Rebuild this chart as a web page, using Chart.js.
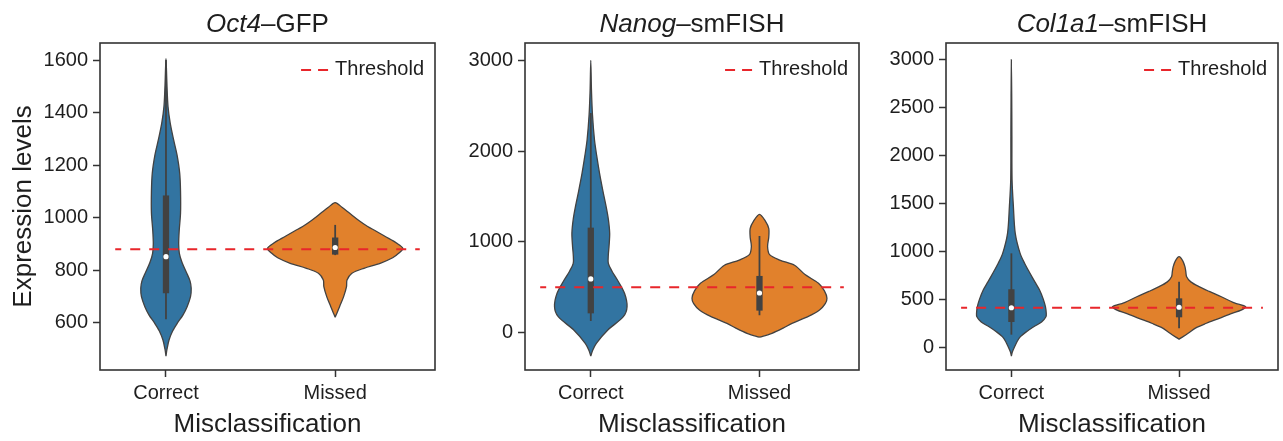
<!DOCTYPE html>
<html>
<head>
<meta charset="utf-8">
<script src="https://cdn.jsdelivr.net/npm/chart.js@4.4.1/dist/chart.umd.min.js"></script>
<style>
html,body{margin:0;padding:0;background:#fff;width:1283px;height:441px;overflow:hidden}
canvas{position:absolute;left:0;top:0}
</style>
</head>
<body>
<canvas id="c1" width="1283" height="441"></canvas>
<canvas id="c2" width="1283" height="441"></canvas>
<canvas id="c3" width="1283" height="441"></canvas>
<script>
// ---------- data ----------
const categories = ['Correct', 'Missed'];
const xAxisTitle = 'Misclassification';
const yAxisTitle = 'Expression levels';
const legendLabel = 'Threshold';
const titlesItalic = ['Oct4', 'Nanog', 'Col1a1'];
const titlesPlain = ['\u2013GFP', '\u2013smFISH', '\u2013smFISH'];
const thresholds = [880, 500, 410];

const oct4Ticks = [600, 800, 1000, 1200, 1400, 1600];
const nanogTicks = [0, 1000, 2000, 3000];
const col1a1Ticks = [0, 500, 1000, 1500, 2000, 2500, 3000];
const oct4Range = [421, 1665];
const nanogRange = [-411, 3191];
const col1a1Range = [-240, 3174];

// violin outlines: expression level (y) and density half-width (category units)
const oct4CorrectY = [474, 500, 535, 570, 599, 630, 662, 700, 732, 760, 789, 830, 865, 900, 950, 1018, 1100, 1170, 1240, 1297, 1360, 1423, 1500, 1560, 1605];
const oct4CorrectW = [0, 0.006, 0.018, 0.04, 0.067, 0.1, 0.125, 0.145, 0.149, 0.142, 0.123, 0.095, 0.079, 0.075, 0.078, 0.086, 0.086, 0.081, 0.065, 0.045, 0.025, 0.012, 0.006, 0.003, 0];
const oct4MissedY = [622, 640, 662, 700, 738, 763, 789, 808, 827, 848, 865, 884, 905, 929, 950, 967, 990, 1018, 1040, 1058];
const oct4MissedW = [0, 0.012, 0.026, 0.05, 0.067, 0.07, 0.099, 0.17, 0.266, 0.34, 0.375, 0.40, 0.36, 0.296, 0.24, 0.192, 0.14, 0.084, 0.04, 0];

const nanogCorrectY = [-257, -190, -117, 30, 176, 286, 434, 580, 680, 764, 860, 947, 1095, 1250, 1388, 1560, 1755, 1950, 2122, 2400, 2673, 3000];
const nanogCorrectW = [0, 0.012, 0.033, 0.101, 0.193, 0.215, 0.2, 0.158, 0.125, 0.104, 0.104, 0.108, 0.112, 0.104, 0.091, 0.072, 0.052, 0.035, 0.022, 0.01, 0.004, 0];
const nanogMissedY = [-50, -7, 50, 103, 180, 250, 320, 379, 460, 544, 640, 740, 800, 860, 950, 1050, 1150, 1230, 1304];
const nanogMissedW = [0, 0.074, 0.14, 0.193, 0.29, 0.356, 0.39, 0.40, 0.385, 0.35, 0.27, 0.21, 0.12, 0.06, 0.048, 0.055, 0.055, 0.035, 0];

const col1a1CorrectY = [-94, -50, 3, 60, 108, 160, 212, 260, 316, 350, 421, 500, 595, 680, 770, 870, 978, 1187, 1465, 1744, 2200, 2600, 3000];
const col1a1CorrectW = [0, 0.006, 0.019, 0.035, 0.054, 0.09, 0.133, 0.18, 0.206, 0.208, 0.203, 0.19, 0.168, 0.14, 0.111, 0.08, 0.052, 0.023, 0.012, 0.004, 0.003, 0.002, 0];
const col1a1MissedY = [81, 143, 200, 248, 300, 352, 385, 421, 460, 525, 580, 630, 680, 734, 790, 839, 900, 943];
const col1a1MissedW = [0, 0.054, 0.1, 0.163, 0.24, 0.315, 0.37, 0.397, 0.33, 0.252, 0.18, 0.119, 0.07, 0.045, 0.04, 0.035, 0.022, 0];

// inner box stats: [whiskerLow, q1, median, q3, whiskerHigh]
const oct4CorrectBox = [614, 713, 852, 1085, 1600];
const oct4MissedBox = [858, 860, 887, 925, 973];
const nanogCorrectBox = [129, 213, 592, 1157, 2420];
const nanogMissedBox = [192, 243, 437, 625, 1065];
const col1a1CorrectBox = [129, 261, 410, 603, 978];
const col1a1MissedBox = [195, 310, 415, 508, 682];

// ---------- style ----------
const FONT = '"Liberation Sans", Arial, Helvetica, sans-serif';
const TEXT = '#1e1e1e';
const EDGE = '#424242';
const RED = '#e8262b';
const FILLS = ['#3274a1', '#e1812c'];

const panels = [
  {id: 'c1', box: [100, 435], yWidth: 100, range: oct4Range, ticks: oct4Ticks, th: thresholds[0],
   violins: [[oct4CorrectY, oct4CorrectW], [oct4MissedY, oct4MissedW]], stats: [oct4CorrectBox, oct4MissedBox], t: 0, yTitle: true},
  {id: 'c2', box: [525, 859], yWidth: 85, range: nanogRange, ticks: nanogTicks, th: thresholds[1],
   violins: [[nanogCorrectY, nanogCorrectW], [nanogMissedY, nanogMissedW]], stats: [nanogCorrectBox, nanogMissedBox], t: 1, yTitle: false},
  {id: 'c3', box: [946, 1278], yWidth: 82, range: col1a1Range, ticks: col1a1Ticks, th: thresholds[2],
   violins: [[col1a1CorrectY, col1a1CorrectW], [col1a1MissedY, col1a1MissedW]], stats: [col1a1CorrectBox, col1a1MissedBox], t: 2, yTitle: false}
];

function violinPoints(center, ys, ws) {
  const pts = [];
  for (let i = 0; i < ys.length; i++) pts.push({x: center + ws[i], y: ys[i]});
  for (let i = ys.length - 2; i >= 0; i--) pts.push({x: center - ws[i], y: ys[i]});
  return pts;
}

const framePlugin = {
  id: 'frame',
  afterDraw(chart) {
    const {ctx, chartArea: a} = chart;
    ctx.save();
    ctx.strokeStyle = '#333';
    ctx.lineWidth = 1.6;
    ctx.strokeRect(a.left, a.top, a.right - a.left, a.bottom - a.top);
    ctx.restore();
  }
};

const titleLegendPlugin = {
  id: 'titleLegend',
  afterDraw(chart) {
    const {ctx, chartArea: a} = chart;
    const t = chart.options.plugins.titleLegend.idx;
    ctx.save();
    // title
    ctx.fillStyle = TEXT;
    ctx.textBaseline = 'alphabetic';
    ctx.textAlign = 'left';
    const fI = 'italic 26px ' + FONT, fN = '26px ' + FONT;
    ctx.font = fI; const wI = ctx.measureText(titlesItalic[t]).width;
    ctx.font = fN; const wN = ctx.measureText(titlesPlain[t]).width;
    const cx = (a.left + a.right) / 2;
    const x0 = cx - (wI + wN) / 2;
    ctx.font = fI; ctx.fillText(titlesItalic[t], x0, 32);
    ctx.font = fN; ctx.fillText(titlesPlain[t], x0 + wI, 32);
    // legend
    ctx.font = '20px ' + FONT;
    ctx.textAlign = 'right';
    ctx.textBaseline = 'middle';
    const tx = a.right - 11, ty = a.top + 26;
    ctx.fillText(legendLabel, tx, ty);
    const w = ctx.measureText(legendLabel).width;
    const lx1 = tx - w - 7, lx0 = lx1 - 27;
    ctx.strokeStyle = RED;
    ctx.lineWidth = 2;
    ctx.setLineDash([10, 7]);
    ctx.beginPath();
    ctx.moveTo(lx0, a.top + 27);
    ctx.lineTo(lx1, a.top + 27);
    ctx.stroke();
    ctx.restore();
  }
};

panels.forEach(p => {
  const datasets = [];
  // median dots (top)
  datasets.push({
    data: p.stats.map((s, i) => ({x: i, y: s[2]})),
    showLine: false, pointRadius: 2.6, pointHoverRadius: 2.6,
    pointBackgroundColor: '#ffffff', pointBorderWidth: 0, order: 0
  });
  // threshold
  datasets.push({
    data: [{x: -0.3, y: p.th}, {x: 1.5, y: p.th}],
    borderColor: RED, borderWidth: 2, borderDash: [10, 9], borderDashOffset: 4,
    pointRadius: 0, fill: false, order: 1
  });
  p.stats.forEach((s, i) => {
    datasets.push({
      data: [{x: i, y: s[1]}, {x: i, y: s[3]}],
      borderColor: EDGE, borderWidth: 6.3, borderCapStyle: 'butt',
      pointRadius: 0, fill: false, order: 2
    });
    datasets.push({
      data: [{x: i, y: s[0]}, {x: i, y: s[4]}],
      borderColor: EDGE, borderWidth: 1.8, borderCapStyle: 'butt',
      pointRadius: 0, fill: false, order: 3
    });
  });
  p.violins.forEach((v, i) => {
    datasets.push({
      data: violinPoints(i, v[0], v[1]),
      borderColor: EDGE, borderWidth: 1.3, backgroundColor: FILLS[i],
      fill: 'shape', tension: 0.3, pointRadius: 0, order: 4
    });
  });

  new Chart(document.getElementById(p.id), {
    type: 'line',
    data: {datasets},
    plugins: [framePlugin, titleLegendPlugin],
    options: {
      responsive: false,
      animation: false,
      devicePixelRatio: 1,
      events: [],
      layout: {padding: {left: p.box[0] - p.yWidth, right: 1283 - p.box[1], top: 43, bottom: 0}},
      plugins: {
        legend: {display: false},
        tooltip: {enabled: false},
        title: {display: false},
        titleLegend: {idx: p.t}
      },
      scales: {
        x: {
          type: 'linear', min: -0.39, max: 1.59,
          afterBuildTicks: a => { a.ticks = categories.map((c, i) => ({value: i})); },
          afterFit: s => { s.height = 71; },
          ticks: {callback: v => categories[v], font: {family: FONT, size: 20}, color: TEXT, padding: 4, maxRotation: 0, autoSkip: false},
          grid: {display: true, drawOnChartArea: false, drawTicks: true, tickLength: 7, tickWidth: 1.5, tickColor: '#333'},
          border: {display: false},
          title: {display: true, text: xAxisTitle, font: {family: FONT, size: 26, lineHeight: 1.2}, color: TEXT, padding: {top: 0, bottom: 1}}
        },
        y: {
          type: 'linear', min: p.range[0], max: p.range[1],
          afterBuildTicks: a => { a.ticks = p.ticks.map(v => ({value: v})); },
          afterFit: s => { s.width = p.yWidth; },
          ticks: {callback: v => String(v), font: {family: FONT, size: 20}, color: TEXT, padding: 5, autoSkip: false},
          grid: {display: true, drawOnChartArea: false, drawTicks: true, tickLength: 7, tickWidth: 1.5, tickColor: '#333'},
          border: {display: false},
          title: {display: p.yTitle, text: yAxisTitle, font: {family: FONT, size: 26, lineHeight: 1.2}, color: TEXT, padding: {top: 8, bottom: 0}}
        }
      }
    }
  });
});
</script>
</body>
</html>
